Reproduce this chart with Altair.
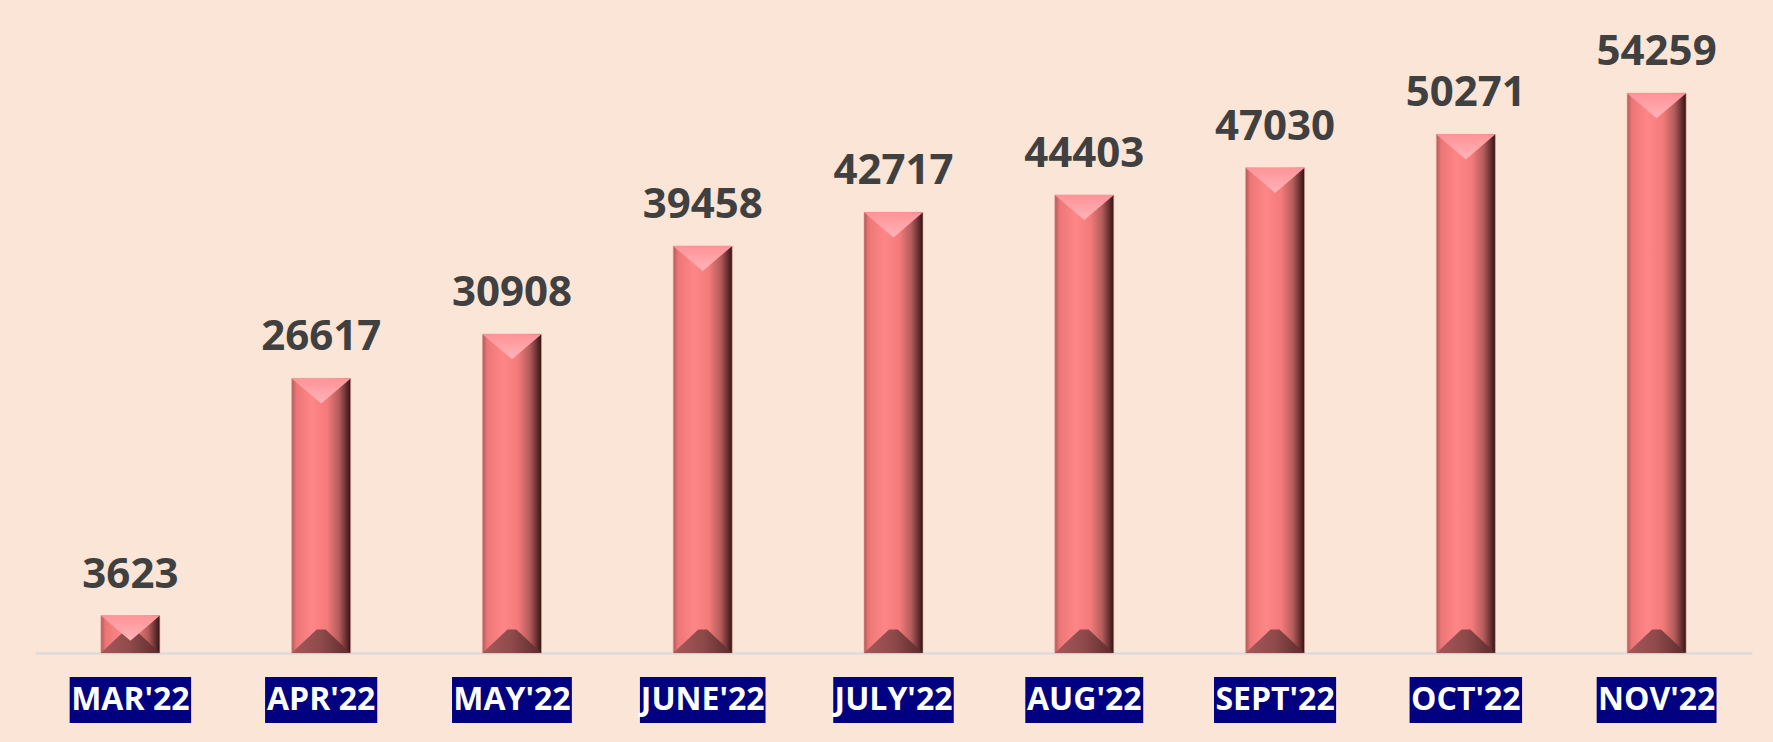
import altair as alt
import pandas as pd

months = ["MAR'22", "APR'22", "MAY'22", "JUNE'22", "JULY'22", "AUG'22", "SEPT'22", "OCT'22", "NOV'22"]
values = [3623, 26617, 30908, 39458, 42717, 44403, 47030, 50271, 54259]

FONT = "Open Sans"
LABEL_FONT = 32
# approximate Open Sans Bold advance widths (em) to size the navy label boxes
CHAR_W = {"M": 0.92, "A": 0.69, "R": 0.66, "P": 0.63, "Y": 0.61, "J": 0.34, "U": 0.74,
          "N": 0.78, "E": 0.54, "L": 0.55, "G": 0.73, "S": 0.55, "T": 0.57, "O": 0.79,
          "C": 0.63, "V": 0.65, "'": 0.26, "2": 0.57}


def box_width(s):
    return sum(CHAR_W.get(c, 0.6) for c in s) * LABEL_FONT + 4


df = pd.DataFrame({"month": months, "value": values})
df["boxw"] = [box_width(m) for m in months]
df["zero"] = 0

x = alt.X("month:N", sort=months, title=None,
          scale=alt.Scale(paddingInner=0, paddingOuter=0),
          axis=alt.Axis(labels=False, ticks=False, domainColor="#D9D9D9", domainWidth=2, grid=False))
yscale = alt.Scale(domain=[0, 60000], nice=False, zero=True)
y = alt.Y("value:Q", title=None, axis=None, scale=yscale)

BAR_W = 59

grad = alt.Gradient(
    gradient="linear", x1=0, x2=1, y1=0, y2=0,
    stops=[
        alt.GradientStop(offset=0.0, color="#b25a5a"),
        alt.GradientStop(offset=0.08, color="#ec7676"),
        alt.GradientStop(offset=0.35, color="#ff8686"),
        alt.GradientStop(offset=0.6, color="#f57b7b"),
        alt.GradientStop(offset=0.8, color="#b45c5c"),
        alt.GradientStop(offset=0.92, color="#6a3030"),
        alt.GradientStop(offset=1.0, color="#2e1414"),
    ],
)

base = alt.Chart(df)

bars = base.mark_bar(size=BAR_W, fill=grad, stroke="#e8a0a0", strokeWidth=0.6).encode(x=x, y=y)

top_bevel = base.mark_point(
    shape="M-1,0L1,0L0,0.85Z", size=BAR_W * BAR_W, filled=True, opacity=1,
    fill=alt.Gradient(gradient="linear", x1=0, x2=0, y1=0, y2=1,
                      stops=[alt.GradientStop(offset=0, color="#ff9398"),
                             alt.GradientStop(offset=1, color="#ffb4b8")]),
    strokeWidth=0,
).encode(x=x, y=y)

bottom_bevel = base.mark_point(
    shape="M-1,0L1,0L0.15,-0.8L-0.15,-0.8Z", size=BAR_W * BAR_W, filled=True, opacity=1,
    fill=alt.Gradient(gradient="linear", x1=0, x2=1, y1=0, y2=0,
                      stops=[alt.GradientStop(offset=0, color="#a65858"),
                             alt.GradientStop(offset=0.5, color="#8e4a4a"),
                             alt.GradientStop(offset=1, color="#5a2a2a")]),
    strokeWidth=0,
).encode(x=x, y=alt.Y("zero:Q", scale=yscale, axis=None))

value_labels = base.mark_text(
    font=FONT, fontWeight="bold", fontSize=42, color="#404040",
    baseline="alphabetic", dy=-28,
).encode(x=x, y=y, text=alt.Text("value:Q", format="d"))

label_boxes = base.mark_bar(fill="#000080").encode(
    x=x,
    size=alt.Size("boxw:Q", scale=None, legend=None),
    y=alt.value(643),
    y2=alt.value(689),
)

label_text = base.mark_text(
    font=FONT, fontWeight="bold", fontSize=LABEL_FONT, color="white", baseline="middle",
).encode(x=x, y=alt.value(666), text="month:N")

chart = (
    alt.layer(bars, bottom_bevel, top_bevel, value_labels, label_boxes, label_text)
    .properties(
        width=1717, height=619,
        autosize=alt.AutoSizeParams(type="none"),
        padding={"left": 35, "top": 34, "right": 21, "bottom": 89},
        background="#FBE5D6",
    )
    .configure_view(stroke=None)
)

chart.save("out.html", embed_options={"renderer": "svg", "actions": False})
